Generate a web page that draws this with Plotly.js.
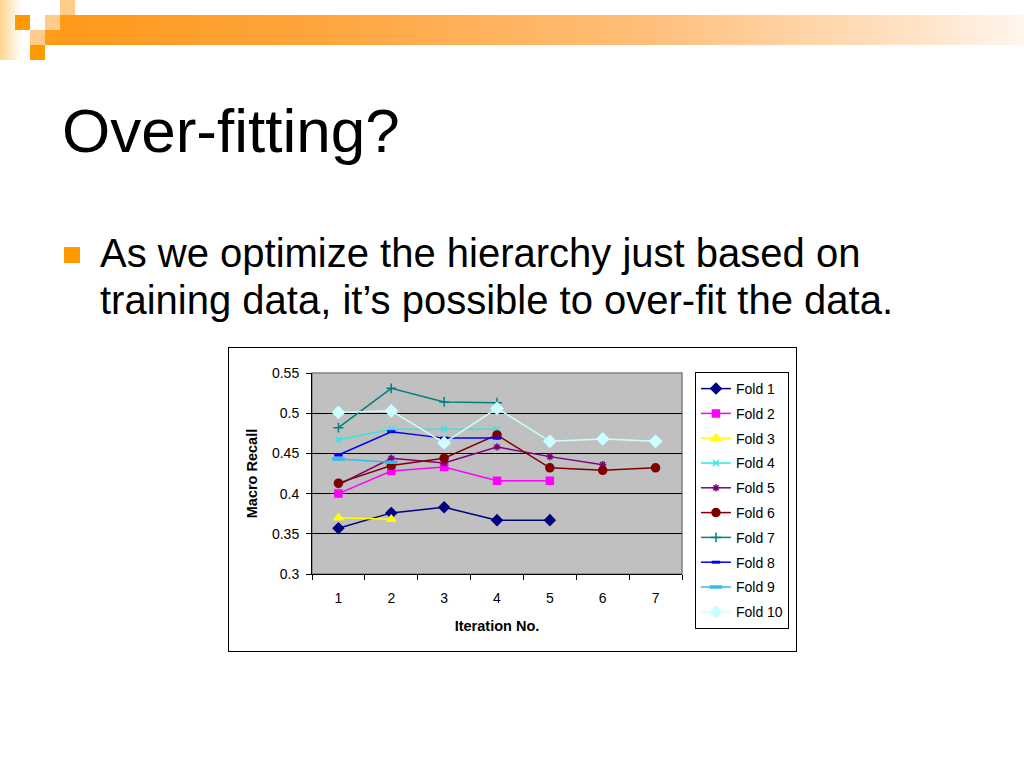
<!DOCTYPE html>
<html>
<head>
<meta charset="utf-8">
<script src="https://cdn.plot.ly/plotly-3.0.1.min.js"></script>
<style>
  html, body { margin:0; padding:0; background:#fff; width:1024px; height:768px; overflow:hidden; }
  .abs { position:absolute; }
  #title { left:62px; top:100px; font-family:"Liberation Sans", Arial, sans-serif; font-size:62px; line-height:62px; color:#000; white-space:nowrap; }
  #body { left:100px; top:230px; font-family:"Liberation Sans", Arial, sans-serif; font-size:40px; line-height:47px; color:#000; white-space:nowrap; }
  #bullet { left:64px; top:247px; width:16px; height:16px; background:#FF9900; }
  #chartbox { left:228px; top:347px; width:567px; height:303px; border:1px solid #000; background:#fff; }
  #chart { position:absolute; left:0; top:0; width:1024px; height:768px; z-index:5; }
</style>
</head>
<body>
<!-- decorative header -->
<div class="abs" style="left:0;top:0;width:22px;height:60px;background:linear-gradient(to right,#FFD38F,#FFFFFF);"></div>
<div class="abs" style="left:15px;top:15px;width:15px;height:15px;background:#FF9900;"></div>
<div class="abs" style="left:30px;top:30px;width:15px;height:15px;background:#FFCC8A;"></div>
<div class="abs" style="left:30px;top:45px;width:15px;height:15px;background:#FF9900;"></div>
<div class="abs" style="left:45px;top:15px;width:15px;height:15px;background:#FFCC88;"></div>
<div class="abs" style="left:60px;top:0px;width:15px;height:15px;background:#FFCC88;"></div>
<div class="abs" style="left:45px;top:30px;width:15px;height:15px;background:#FF9C1A;"></div>
<div class="abs" style="left:60px;top:15px;width:964px;height:30px;background:linear-gradient(to right,#FF9A1A 0%,#FFA43A 25%,#FFBE78 60%,#FFE2C4 88%,#FFF6EE 100%);"></div>

<div id="title" class="abs">Over-fitting?</div>
<div id="bullet" class="abs"></div>
<div id="body" class="abs">As we optimize the hierarchy just based on<br>training data, it’s possible to over-fit the data.</div>

<div id="chartbox" class="abs"></div>
<div id="chart"></div>

<script>
// ---- data ----
const iterations = ['1','2','3','4','5','6','7'];
const fold1  = [0.357, 0.376, 0.383, 0.367, 0.367];
const fold2  = [0.400, 0.428, 0.433, 0.416, 0.416];
const fold3  = [0.370, 0.368];
const fold4  = [0.467, 0.480, 0.480, 0.480];
const fold5  = [0.411, 0.444, 0.438, 0.458, 0.446, 0.436];
const fold6  = [0.413, 0.435, 0.444, 0.473, 0.432, 0.429, 0.432];
const fold7  = [0.482, 0.531, 0.514, 0.513];
const fold8  = [0.448, 0.477, 0.469, 0.469];
const fold9  = [0.443, 0.439];
const fold10 = [0.501, 0.503, 0.463, 0.506, 0.465, 0.468, 0.465];
const foldNames = ['Fold 1','Fold 2','Fold 3','Fold 4','Fold 5','Fold 6','Fold 7','Fold 8','Fold 9','Fold 10'];
const yTicks = [0.3, 0.35, 0.4, 0.45, 0.5, 0.55];
const yTickText = ['0.3','0.35','0.4','0.45','0.5','0.55'];

const series = [fold1, fold2, fold3, fold4, fold5, fold6, fold7, fold8, fold9, fold10];
const colors = ['#000080','#FF00FF','#FFFF00','#33E6E6','#800080','#800000','#008080','#0000FF','#33BBEE','#CCFFFF'];
const symbols = ['diamond','square','triangle-up','x-thin-open','asterisk-open','circle','cross-thin-open','line-ew-open','line-ew-open','diamond'];
const sizes = [8, 7, 8, 6, 6, 8, 7, 6, 9, 9];
const markerLineWidths = [1.5, 1.5, 1.5, 1.5, 1.5, 1.5, 1.5, 3, 3.5, 1.5];

const traces = series.map((vals, i) => ({
  type: 'scatter',
  mode: 'lines+markers',
  name: foldNames[i],
  legendgroup: 'g' + i,
  x: iterations.slice(0, vals.length),
  y: vals,
  line: { color: colors[i], width: 1.5 },
  marker: { symbol: symbols[i], size: sizes[i], color: colors[i], line: { color: colors[i], width: markerLineWidths[i] } }
}));

const layout = {
  width: 1024, height: 768,
  margin: { l: 312, r: 342, t: 373, b: 194 },
  paper_bgcolor: 'rgba(0,0,0,0)',
  plot_bgcolor: '#C0C0C0',
  font: { family: '"Liberation Sans", Arial, sans-serif', size: 14, color: '#000' },
  showlegend: true,
  legend: {
    x: 1.035, xanchor: 'left', y: 1.005, yanchor: 'top',
    bgcolor: '#FFFFFF', bordercolor: '#000', borderwidth: 1,
    font: { size: 14, color: '#000' },
    traceorder: 'grouped', tracegroupgap: 3.6
  },
  xaxis: {
    type: 'category',
    categoryorder: 'array', categoryarray: iterations,
    range: [-0.5, 6.5],
    tickson: 'boundaries',
    ticks: 'outside', ticklen: 5, tickcolor: '#000', tickwidth: 1,
    ticklabelstandoff: 11,
    showline: true, linecolor: '#000', linewidth: 1,
    showgrid: false, zeroline: false,
    tickfont: { size: 14 },
    title: { text: 'Iteration No.', font: { size: 14.5, weight: 'bold' }, standoff: 16 }
  },
  yaxis: {
    range: [0.3, 0.55],
    tickvals: yTicks, ticktext: yTickText,
    ticks: 'outside', ticklen: 5, tickcolor: '#000', tickwidth: 1,
    ticklabelstandoff: 4,
    showline: true, linecolor: '#000', linewidth: 1,
    showgrid: true, gridcolor: '#000', gridwidth: 1,
    zeroline: false,
    tickfont: { size: 14 },
    title: { text: 'Macro Recall', font: { size: 14.5, weight: 'bold' }, standoff: 10 }
  },
  shapes: [{
    type: 'rect', xref: 'paper', yref: 'paper', x0: 0, x1: 1, y0: 0, y1: 1,
    line: { color: '#808080', width: 1.5 }, layer: 'below'
  }]
};

Plotly.newPlot('chart', traces, layout, { displayModeBar: false, staticPlot: true });
</script>
</body>
</html>
